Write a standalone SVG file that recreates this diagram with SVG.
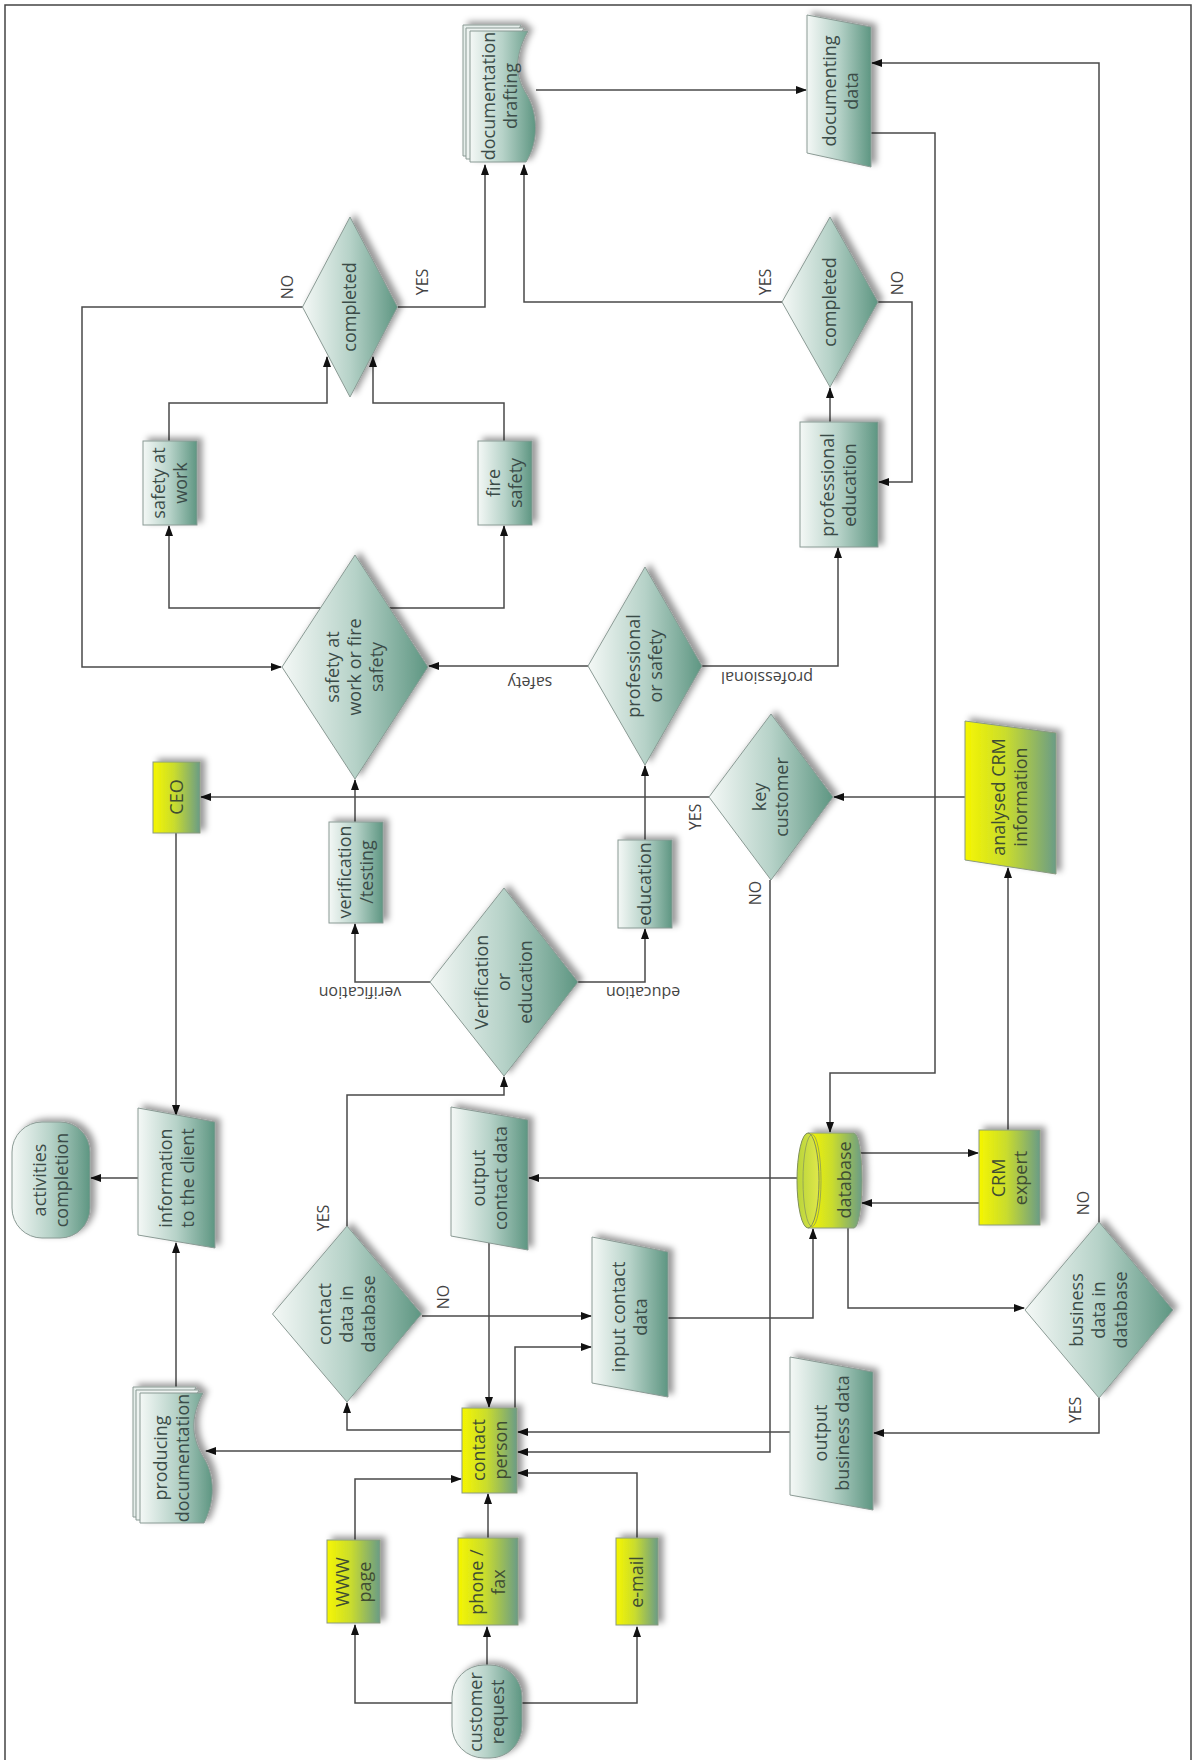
<svg xmlns="http://www.w3.org/2000/svg" width="1192" height="1760" viewBox="0 0 1192 1760">
<defs>
<linearGradient id="teal" x1="0" y1="0" x2="1" y2="0">
<stop offset="0" stop-color="#f4f8f6"/>
<stop offset="0.5" stop-color="#b6d2c8"/>
<stop offset="1" stop-color="#5e9682"/>
</linearGradient>
<linearGradient id="yel" x1="0" y1="0" x2="1" y2="0">
<stop offset="0" stop-color="#f6f600"/>
<stop offset="0.45" stop-color="#c9dc2e"/>
<stop offset="1" stop-color="#6a9c86"/>
</linearGradient>
<linearGradient id="dbcap" x1="0" y1="0" x2="1" y2="0">
<stop offset="0" stop-color="#b9d43a"/>
<stop offset="1" stop-color="#dfe84a"/>
</linearGradient>
<filter id="sh" x="-30%" y="-30%" width="160%" height="160%">
<feDropShadow dx="5" dy="-3" stdDeviation="3" flood-color="#000" flood-opacity="0.4"/>
</filter>
<marker id="ar" markerWidth="11" markerHeight="8" refX="10" refY="4" orient="auto" markerUnits="userSpaceOnUse">
<path d="M0,0 L11,4 L0,8 z" fill="#111"/>
</marker>
<style>
.n{fill:url(#teal);stroke:#8a9a94;stroke-width:1;filter:url(#sh)}
.y{fill:url(#yel);stroke:#8a9a80;stroke-width:1;filter:url(#sh)}
.t{font-family:"Open Sans","DejaVu Sans",sans-serif;font-size:18px;fill:#3b4c48;text-anchor:middle}
.ty{font-family:"Open Sans","DejaVu Sans",sans-serif;font-size:18px;fill:#3f4d32;text-anchor:middle}
.l{font-family:"Open Sans","DejaVu Sans",sans-serif;font-size:16px;fill:#444;text-anchor:middle}
.c{fill:none;stroke:#4a4a4a;stroke-width:1.5}
.ca{fill:none;stroke:#4a4a4a;stroke-width:1.5;marker-end:url(#ar)}
</style>
</defs>
<rect x="0" y="0" width="1192" height="1760" fill="#fff"/>
<rect x="5" y="5" width="1186" height="1780" fill="none" stroke="#444" stroke-width="1.5"/>

<g id="connectors">
<path class="ca" d="M452,1703 H355 V1625"/>
<path class="ca" d="M487,1665 V1627"/>
<path class="ca" d="M522,1703 H637 V1627"/>
<path class="ca" d="M355,1540 V1479 H461"/>
<path class="ca" d="M488,1538 V1494"/>
<path class="ca" d="M637,1538 V1473 H518"/>
<path class="ca" d="M462,1430 H347 V1403"/>
<path class="ca" d="M462,1451 H206"/>
<path class="ca" d="M176,1387 V1243"/>
<path class="ca" d="M138,1178 H91"/>
<path class="ca" d="M176,833 V1115"/>
<path class="ca" d="M347,1226 V1095 H504 V1077"/>
<path class="ca" d="M422,1316 H591"/>
<path class="ca" d="M515,1408 V1347 H591"/>
<path class="ca" d="M668,1318 H813 V1229"/>
<path class="ca" d="M797,1178 H529"/>
<path class="ca" d="M489,1243 V1407"/>
<path class="ca" d="M770,880 V1452 H518"/>
<path class="ca" d="M790,1432 H518"/>
<path class="ca" d="M860,1153 H978"/>
<path class="ca" d="M979,1203 H862"/>
<path class="ca" d="M1008,1130 V868"/>
<path class="ca" d="M965,797 H834"/>
<path class="ca" d="M709,797 H201"/>
<path class="ca" d="M848,1228 V1308 H1024"/>
<path class="ca" d="M1099,1398 V1433 H874"/>
<path class="ca" d="M1099,1222 V63 H872"/>
<path class="ca" d="M871,133 H935 V1073 H830 V1132"/>
<path class="ca" d="M536,90 H806"/>
<path class="ca" d="M430,982 H355 V924"/>
<path class="ca" d="M578,982 H645 V929"/>
<path class="ca" d="M355,822 V780"/>
<path class="ca" d="M645,840 V766"/>
<path class="ca" d="M588,666 H429"/>
<path class="ca" d="M702,666 H838 V548"/>
<path class="ca" d="M321,608 H169 V526"/>
<path class="ca" d="M389,608 H504 V526"/>
<path class="ca" d="M169,441 V403 H327 V357"/>
<path class="ca" d="M504,441 V403 H373 V357"/>
<path class="ca" d="M303,307 H82 V667 H281"/>
<path class="ca" d="M398,307 H485 V165"/>
<path class="ca" d="M782,302 H524 V165"/>
<path class="ca" d="M878,302 H912 V482 H879"/>
<path class="ca" d="M830,422 V388"/>
</g>

<g id="labels">
<text class="l" transform="translate(287,287) rotate(-90)" dy="6">NO</text>
<text class="l" transform="translate(422,282) rotate(-90)" dy="6">YES</text>
<text class="l" transform="translate(765,282) rotate(-90)" dy="6">YES</text>
<text class="l" transform="translate(897,283) rotate(-90)" dy="6">NO</text>
<text class="l" transform="translate(530,683) rotate(180)" dy="6">safety</text>
<text class="l" transform="translate(767,678) rotate(180)" dy="6">professional</text>
<text class="l" transform="translate(360,993) rotate(180)" dy="6">verification</text>
<text class="l" transform="translate(643,993) rotate(180)" dy="6">education</text>
<text class="l" transform="translate(695,817) rotate(-90)" dy="6">YES</text>
<text class="l" transform="translate(755,893) rotate(-90)" dy="6">NO</text>
<text class="l" transform="translate(323,1218) rotate(-90)" dy="6">YES</text>
<text class="l" transform="translate(443,1297) rotate(-90)" dy="6">NO</text>
<text class="l" transform="translate(1083,1203) rotate(-90)" dy="6">NO</text>
<text class="l" transform="translate(1075,1410) rotate(-90)" dy="6">YES</text>
</g>

<g id="activities-completion">
<rect class="n" x="12" y="1122" width="78" height="116" rx="30"/>
<text class="t" transform="translate(51,1180) rotate(-90)"><tspan x="0" y="-5">activities</tspan><tspan x="0" y="17">completion</tspan></text>
</g>
<g id="information-to-the-client">
<polygon class="n" points="138,1108 215,1122 215,1248 138,1235"/>
<text class="t" transform="translate(177,1178) rotate(-90)"><tspan x="0" y="-5">information</tspan><tspan x="0" y="17">to the client</tspan></text>
</g>
<g id="producing-documentation">
<g filter="url(#sh)">
<path d="M140,1393 H203 C186,1425 196,1445 205,1460 C214,1476 216,1500 204,1523 H140 Z" transform="translate(-7,-6)" fill="#e6eeeb" stroke="#8a9a94"/>
<path d="M140,1393 H203 C186,1425 196,1445 205,1460 C214,1476 216,1500 204,1523 H140 Z" transform="translate(-4,-3)" fill="#eef3f1" stroke="#8a9a94"/>
<path d="M140,1393 H203 C186,1425 196,1445 205,1460 C214,1476 216,1500 204,1523 H140 Z" fill="url(#teal)" stroke="#8a9a94"/>
</g>
<text class="t" transform="translate(172,1458) rotate(-90)"><tspan x="0" y="-5">producing</tspan><tspan x="0" y="17">documentation</tspan></text>
</g>
<g id="documentation-drafting">
<g filter="url(#sh)">
<path d="M470,31 H528 C512,60 517,80 527,95 C537,112 540,140 526,162 H470 Z" transform="translate(-7,-6)" fill="#e6eeeb" stroke="#8a9a94"/>
<path d="M470,31 H528 C512,60 517,80 527,95 C537,112 540,140 526,162 H470 Z" transform="translate(-4,-3)" fill="#eef3f1" stroke="#8a9a94"/>
<path d="M470,31 H528 C512,60 517,80 527,95 C537,112 540,140 526,162 H470 Z" fill="url(#teal)" stroke="#8a9a94"/>
</g>
<text class="t" transform="translate(500,96) rotate(-90)"><tspan x="0" y="-5">documentation</tspan><tspan x="0" y="17">drafting</tspan></text>
</g>
<g id="documenting-data">
<polygon class="n" points="807,15 871,27 871,167 807,153"/>
<text class="t" transform="translate(841,91) rotate(-90)"><tspan x="0" y="-5">documenting</tspan><tspan x="0" y="17">data</tspan></text>
</g>
<g id="completed-1">
<polygon class="n" points="350,217 397.5,307 350,397 302.5,307"/>
<text class="t" transform="translate(350,307) rotate(-90)"><tspan x="0" y="6">completed</tspan></text>
</g>
<g id="completed-2">
<polygon class="n" points="830,217 878,302 830,387 782,302"/>
<text class="t" transform="translate(830,302) rotate(-90)"><tspan x="0" y="6">completed</tspan></text>
</g>
<g id="safety-at-work">
<rect class="n" x="143" y="441" width="54" height="84"/>
<text class="t" transform="translate(170,483) rotate(-90)"><tspan x="0" y="-5">safety at</tspan><tspan x="0" y="17">work</tspan></text>
</g>
<g id="fire-safety">
<rect class="n" x="478" y="441" width="54" height="84"/>
<text class="t" transform="translate(505,483) rotate(-90)"><tspan x="0" y="-5">fire</tspan><tspan x="0" y="17">safety</tspan></text>
</g>
<g id="professional-education">
<rect class="n" x="800" y="422" width="78" height="125"/>
<text class="t" transform="translate(839,485) rotate(-90)"><tspan x="0" y="-5">professional</tspan><tspan x="0" y="17">education</tspan></text>
</g>
<g id="safety-or-fire">
<polygon class="n" points="355,555 428,667 355,779 282,667"/>
<text class="t" transform="translate(355,667) rotate(-90)"><tspan x="0" y="-16">safety at</tspan><tspan x="0" y="6">work or fire</tspan><tspan x="0" y="28">safety</tspan></text>
</g>
<g id="professional-or-safety">
<polygon class="n" points="645,567 702,666 645,765 588,666"/>
<text class="t" transform="translate(645,666) rotate(-90)"><tspan x="0" y="-5">professional</tspan><tspan x="0" y="17">or safety</tspan></text>
</g>
<g id="ceo">
<rect class="y" x="153" y="762" width="47" height="71"/>
<text class="ty" transform="translate(177,797) rotate(-90)"><tspan x="0" y="6">CEO</tspan></text>
</g>
<g id="verification-testing">
<rect class="n" x="329" y="822" width="54" height="101"/>
<text class="t" transform="translate(356,872) rotate(-90)"><tspan x="0" y="-5">verification</tspan><tspan x="0" y="17">/testing</tspan></text>
</g>
<g id="education">
<rect class="n" x="618" y="840" width="54" height="88"/>
<text class="t" transform="translate(645,884) rotate(-90)"><tspan x="0" y="6">education</tspan></text>
</g>
<g id="verification-or-education">
<polygon class="n" points="504,888 578,982 504,1076 430,982"/>
<text class="t" transform="translate(504,982) rotate(-90)"><tspan x="0" y="-16">Verification</tspan><tspan x="0" y="6">or</tspan><tspan x="0" y="28">education</tspan></text>
</g>
<g id="key-customer">
<polygon class="n" points="771,714 833,797 771,880 709,797"/>
<text class="t" transform="translate(771,797) rotate(-90)"><tspan x="0" y="-5">key</tspan><tspan x="0" y="17">customer</tspan></text>
</g>
<g id="analysed-crm">
<polygon class="y" points="965,721 1056,733 1056,874 965,860"/>
<text class="ty" transform="translate(1010,797) rotate(-90)"><tspan x="0" y="-5">analysed CRM</tspan><tspan x="0" y="17">information</tspan></text>
</g>
<g id="contact-data-in-database">
<polygon class="n" points="347,1226 421.5,1314 347,1402 272.5,1314"/>
<text class="t" transform="translate(347,1314) rotate(-90)"><tspan x="0" y="-16">contact</tspan><tspan x="0" y="6">data in</tspan><tspan x="0" y="28">database</tspan></text>
</g>
<g id="output-contact-data">
<polygon class="n" points="451,1107 528,1120 528,1250 451,1236"/>
<text class="t" transform="translate(490,1178) rotate(-90)"><tspan x="0" y="-5">output</tspan><tspan x="0" y="17">contact data</tspan></text>
</g>
<g id="input-contact-data">
<polygon class="n" points="592,1237 668,1252 668,1397 592,1383"/>
<text class="t" transform="translate(630,1317) rotate(-90)"><tspan x="0" y="-5">input contact</tspan><tspan x="0" y="17">data</tspan></text>
</g>
<g id="database">
<path class="y" d="M808,1133 H854 A8,47.5 0 0 1 854,1228 H808 Z"/>
<ellipse cx="808" cy="1180.5" rx="11" ry="47.5" fill="url(#dbcap)" stroke="#7f8f5a"/>
<ellipse cx="812" cy="1180.5" rx="9" ry="46" fill="none" stroke="#8a9a5a" stroke-width="0.8"/>
<text class="ty" transform="translate(845,1180) rotate(-90)"><tspan x="0" y="6">database</tspan></text>
</g>
<g id="crm-expert">
<rect class="y" x="979" y="1130" width="61" height="95"/>
<text class="ty" transform="translate(1010,1178) rotate(-90)"><tspan x="0" y="-5">CRM</tspan><tspan x="0" y="17">expert</tspan></text>
</g>
<g id="business-data-in-database">
<polygon class="n" points="1099,1222 1173,1310 1099,1398 1025,1310"/>
<text class="t" transform="translate(1099,1310) rotate(-90)"><tspan x="0" y="-16">business</tspan><tspan x="0" y="6">data in</tspan><tspan x="0" y="28">database</tspan></text>
</g>
<g id="output-business-data">
<polygon class="n" points="790,1357 873,1372 873,1510 790,1495"/>
<text class="t" transform="translate(832,1433) rotate(-90)"><tspan x="0" y="-5">output</tspan><tspan x="0" y="17">business data</tspan></text>
</g>
<g id="contact-person">
<rect class="y" x="462" y="1408" width="55" height="85"/>
<text class="ty" transform="translate(490,1450) rotate(-90)"><tspan x="0" y="-5">contact</tspan><tspan x="0" y="17">person</tspan></text>
</g>
<g id="www-page">
<rect class="y" x="327" y="1540" width="53" height="83"/>
<text class="ty" transform="translate(354,1582) rotate(-90)"><tspan x="0" y="-5">WWW</tspan><tspan x="0" y="17">page</tspan></text>
</g>
<g id="phone-fax">
<rect class="y" x="458" y="1538" width="60" height="87"/>
<text class="ty" transform="translate(488,1582) rotate(-90)"><tspan x="0" y="-5">phone /</tspan><tspan x="0" y="17">fax</tspan></text>
</g>
<g id="e-mail">
<rect class="y" x="616" y="1538" width="42" height="87"/>
<text class="ty" transform="translate(637,1582) rotate(-90)"><tspan x="0" y="6">e-mail</tspan></text>
</g>
<g id="customer-request">
<rect class="n" x="452" y="1665" width="70" height="93" rx="32"/>
<text class="t" transform="translate(487,1712) rotate(-90)"><tspan x="0" y="-5">customer</tspan><tspan x="0" y="17">request</tspan></text>
</g>
</svg>
